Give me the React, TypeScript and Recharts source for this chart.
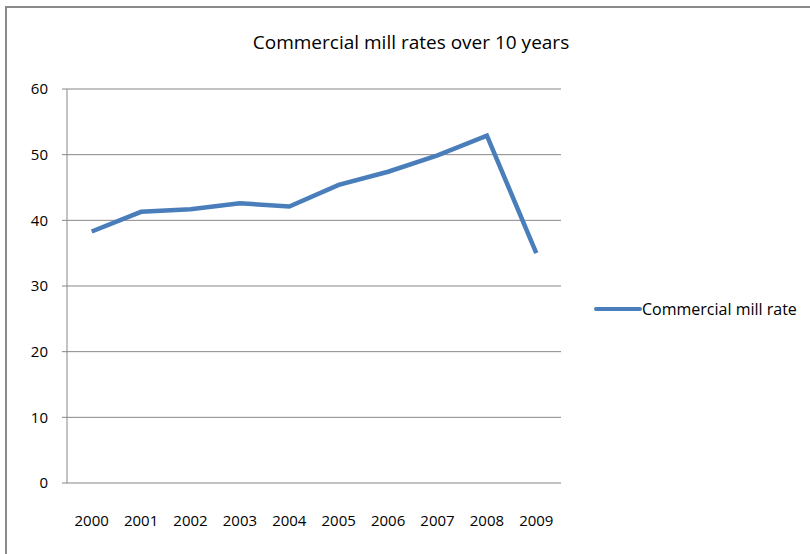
import { LineChart, Line, XAxis, YAxis, CartesianGrid } from 'recharts';

const years = ['2000', '2001', '2002', '2003', '2004', '2005', '2006', '2007', '2008', '2009'];
const millRates = [38.3, 41.3, 41.7, 42.6, 42.1, 45.4, 47.4, 49.9, 52.9, 35.0];
const yTicks = [0, 10, 20, 30, 40, 50, 60];
const yearTicks = [0, 1, 2, 3, 4, 5, 6, 7, 8, 9];
const edgeTicks = [-0.5, 0.5, 1.5, 2.5, 3.5, 4.5, 5.5, 6.5, 7.5, 8.5, 9.5];

const seriesName = 'Commercial mill rate';
const title = 'Commercial mill rates over 10 years';

const data = years.map((year, i) => ({ year, idx: i, rate: millRates[i] }));

const FONT = '"Open Sans", sans-serif';
const AXIS = '#868686';
const BLUE = '#4a7ebb';

export default function App() {
  return (
    <div style={{ position: 'absolute', left: 0, top: 0, width: 810, height: 554, background: '#fff', overflow: 'hidden' }}>
      {/* frame */}
      <div style={{ position: 'absolute', left: 5, top: 6, width: 820, height: 560, borderTop: '2px solid #8a8a8a', borderLeft: '2px solid #8a8a8a' }} />
      <div
        style={{
          position: 'absolute',
          left: 0,
          width: 822,
          top: 29,
          textAlign: 'center',
          fontFamily: FONT,
          fontSize: 19,
          color: '#000',
        }}
      >
        {title}
      </div>
      <LineChart
        width={810}
        height={554}
        data={data}
        margin={{ top: 89, right: 249, bottom: 41, left: 27 }}
        style={{ position: 'absolute', left: 0, top: 0 }}
      >
        <CartesianGrid vertical={false} stroke={AXIS} strokeWidth={1} />
        <XAxis
          xAxisId="edges"
          type="number"
          dataKey="idx"
          domain={[-0.5, 9.5]}
          ticks={edgeTicks}
          tick={() => <g />}
          height={0}
          stroke={AXIS}
          tickSize={6}
          allowDataOverflow
        />
        <XAxis
          type="number"
          dataKey="idx"
          domain={[-0.5, 9.5]}
          ticks={yearTicks}
          tickFormatter={(i: number) => years[i]}
          height={30}
          axisLine={false}
          tickLine={false}
          interval={0}
          tick={{ fill: '#000', fontSize: 15, fontFamily: FONT }}
          tickMargin={26}
          allowDataOverflow
        />
        <YAxis
          width={40}
          domain={[0, 60]}
          ticks={yTicks}
          stroke={AXIS}
          tickSize={5}
          tickMargin={14}
          tick={{ fill: '#000', fontSize: 15, fontFamily: FONT }}
        />
        <Line
          type="linear"
          dataKey="rate"
          name={seriesName}
          stroke={BLUE}
          strokeWidth={4.5}
          dot={false}
          activeDot={false}
          isAnimationActive={false}
        />
      </LineChart>
      {/* legend */}
      <div
        style={{
          position: 'absolute',
          left: 594,
          top: 298,
          display: 'flex',
          alignItems: 'center',
          fontFamily: FONT,
          fontSize: 16,
          color: '#000',
        }}
      >
        <svg width={48} height={8}>
          <line x1={2} y1={4} x2={46} y2={4} stroke={BLUE} strokeWidth={4} strokeLinecap="round" />
        </svg>
        <span>{seriesName}</span>
      </div>
    </div>
  );
}
